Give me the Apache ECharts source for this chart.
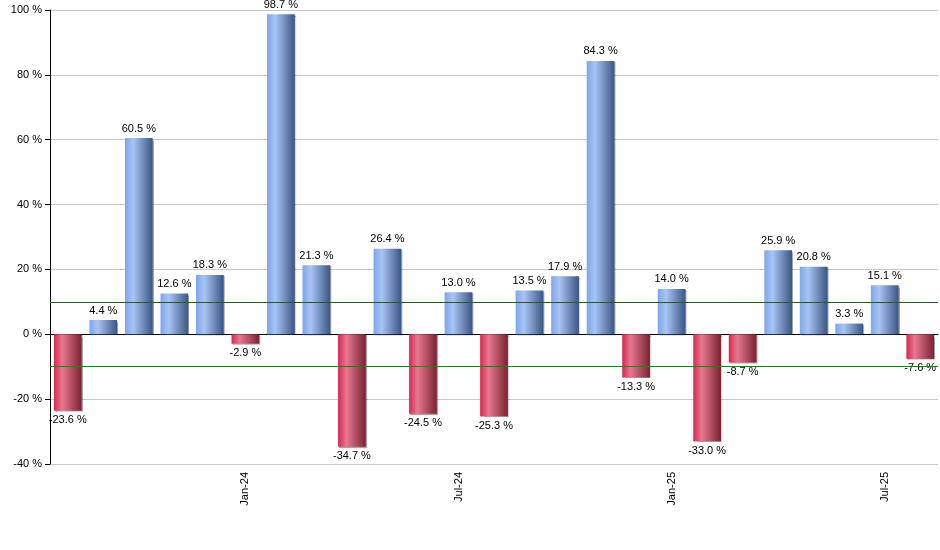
<!DOCTYPE html>
<html>
<head>
<meta charset="utf-8">
<script src="https://cdn.jsdelivr.net/npm/echarts@6/dist/echarts.min.js"></script>
<style>html,body{margin:0;padding:0;background:#fff}#chart{width:940px;height:550px}</style>
</head>
<body>
<div id="chart"></div>
<script>
const months = ["Aug-23","Sep-23","Oct-23","Nov-23","Dec-23","Jan-24","Feb-24","Mar-24","Apr-24","May-24","Jun-24","Jul-24","Aug-24","Sep-24","Oct-24","Nov-24","Dec-24","Jan-25","Feb-25","Mar-25","Apr-25","May-25","Jun-25","Jul-25","Aug-25"];
const values = [-23.6,4.4,60.5,12.6,18.3,-2.9,98.7,21.3,-34.7,26.4,-24.5,13.0,-25.3,13.5,17.9,84.3,-13.3,14.0,-33.0,-8.7,25.9,20.8,3.3,15.1,-7.6];
const upperLine = 10;
const lowerLine = -10;

const grad = (c0, c1, c2) => new echarts.graphic.LinearGradient(0, 0, 1, 0, [
  { offset: 0, color: c0 }, { offset: 0.3, color: c1 }, { offset: 1, color: c2 }
]);
const blue = grad("#7fa6ea", "#a8c4f4", "#3b5684");
const red = grad("#d8284f", "#e67890", "#7a2232");

const chart = echarts.init(document.getElementById("chart"));
chart.setOption({
  animation: false,
  grid: { left: 50, right: 2, top: 10, bottom: 86 },
  xAxis: {
    type: "category",
    data: months,
    axisLine: { lineStyle: { color: "#000" } },
    axisTick: { alignWithLabel: true, interval: (i, v) => /^(Jan|Jul)/.test(v), lineStyle: { color: "#000" } },
    axisLabel: {
      interval: (i, v) => /^(Jan|Jul)/.test(v),
      rotate: 90, color: "#000", fontFamily: "Liberation Sans", fontSize: 11
    }
  },
  yAxis: {
    type: "value", min: -40, max: 100, interval: 20,
    axisLine: { show: true, lineStyle: { color: "#000" } },
    axisTick: { show: true, lineStyle: { color: "#000" } },
    axisLabel: { formatter: "{value} %", color: "#000", fontFamily: "Liberation Sans", fontSize: 11 },
    splitLine: { lineStyle: { color: "#c8c8c8" } }
  },
  series: [{
    type: "bar",
    barWidth: "78%",
    data: values.map(v => ({
      value: v,
      itemStyle: { color: v >= 0 ? blue : red },
      label: { position: v >= 0 ? "top" : "bottom" }
    })),
    itemStyle: { shadowColor: "rgba(0,0,0,0.35)", shadowOffsetX: 1, shadowOffsetY: 1, shadowBlur: 1 },
    label: {
      show: true, formatter: p => p.value.toFixed(1) + " %",
      color: "#000", fontFamily: "Liberation Sans", fontSize: 11, distance: 4
    },
    markLine: {
      silent: true, symbol: "none", label: { show: false },
      data: [
        { yAxis: upperLine, lineStyle: { color: "#245a24", type: "solid", width: 1 } },
        { yAxis: lowerLine, lineStyle: { color: "#0a8a0a", type: "solid", width: 1 } }
      ]
    }
  }]
});
</script>
</body>
</html>
